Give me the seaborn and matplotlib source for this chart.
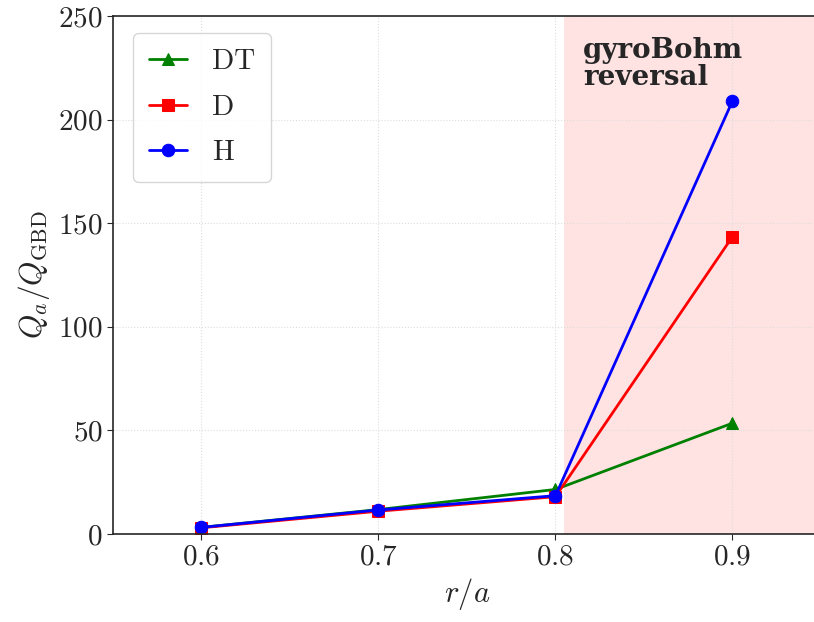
import matplotlib
matplotlib.use("Agg")
import matplotlib.pyplot as plt
import seaborn as sns
import pandas as pd

r_a = [0.6, 0.7, 0.8, 0.9]
q_dt = [3.2, 11.8, 21.5, 53.5]
q_d = [3.0, 11.0, 18.0, 143.5]
q_h = [3.2, 11.6, 18.5, 209.0]
species = ["DT", "D", "H"]
colors = ["green", "red", "blue"]
markers = ["^", "s", "o"]

df = pd.concat([
    pd.DataFrame({"r": r_a, "Q": q, "species": s})
    for q, s in zip([q_dt, q_d, q_h], species)
])

sns.set_style("ticks")
plt.rcParams["font.family"] = "serif"
plt.rcParams["font.serif"] = ["cmr10"]
plt.rcParams["mathtext.fontset"] = "cm"
plt.rcParams["axes.formatter.use_mathtext"] = True
plt.rcParams["axes.unicode_minus"] = False

fig = plt.figure(figsize=(8.14, 6.22), dpi=100)
ax = fig.add_axes([113/814, 88/622, 708/814, 518/622])

ax.axvspan(0.805, 0.95, color="red", alpha=0.11, lw=0, zorder=0)

sns.lineplot(data=df, x="r", y="Q", hue="species", style="species",
             hue_order=species, style_order=species,
             palette=dict(zip(species, colors)),
             markers=dict(zip(species, markers)), dashes=False,
             markersize=9, linewidth=2, ax=ax)
for ln in ax.lines:
    ln.set_markeredgecolor(ln.get_color())

ax.set_xlim(0.55, 0.95)
ax.set_ylim(0, 250)
ax.set_xticks(r_a)
ax.set_yticks([0, 50, 100, 150, 200, 250])
ax.grid(True, linestyle=":", color="#dddddd", linewidth=0.8)
ax.set_axisbelow(True)
ax.tick_params(labelsize=21, length=4)
ax.set_xlabel(r"$r/a$", fontsize=22)
ax.set_ylabel(r"$Q_a/Q_{\rm GBD}$", fontsize=22.5)

ax.text(0.8155, 240, "gyroBohm\nreversal", fontsize=20,
        fontfamily="DejaVu Serif", fontweight="bold",
        va="top", ha="left", linespacing=1.0)

leg = ax.legend(loc="upper left", fontsize=21, frameon=True, fancybox=True,
                borderpad=0.55, handlelength=1.3, labelspacing=0.65,
                handletextpad=0.85, borderaxespad=0,
                bbox_to_anchor=(20/708, 1 - 17/518))
leg.get_frame().set_edgecolor("#cccccc")
for ln in leg.get_lines():
    ln.set_markeredgecolor(ln.get_color())

for s in ax.spines.values():
    s.set_linewidth(1.2)

fig.savefig("out.png", dpi=100)
